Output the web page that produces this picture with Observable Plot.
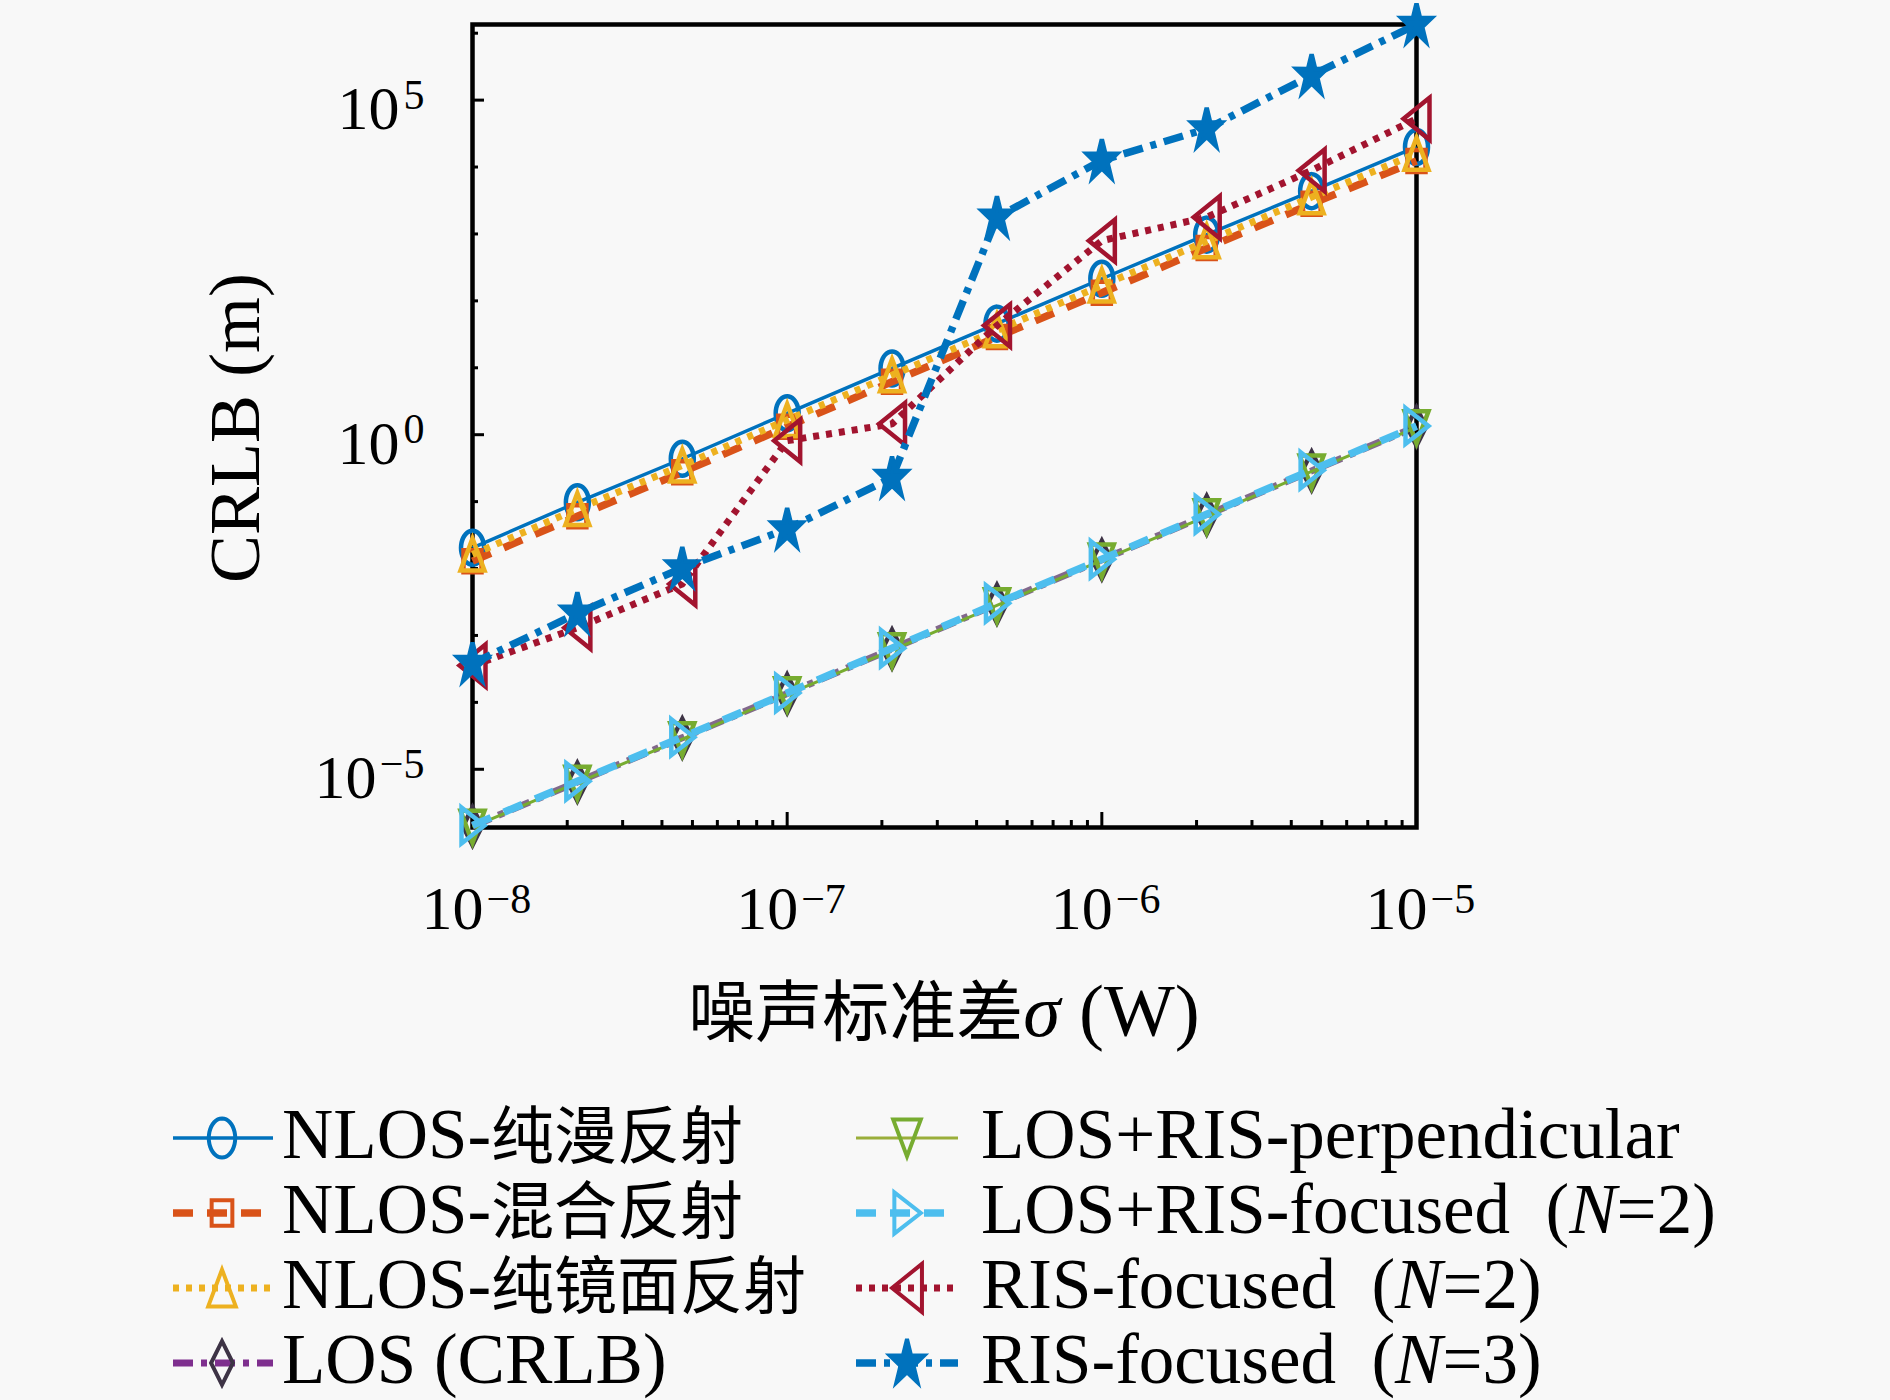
<!DOCTYPE html>
<html><head><meta charset="utf-8">
<script src="https://cdn.jsdelivr.net/npm/d3@7"></script>
<script src="https://cdn.jsdelivr.net/npm/@observablehq/plot@0.6"></script>
<style>
html,body{margin:0;padding:0;background:#f8f8f8;}
#wrap{width:1890px;height:1400px;position:relative;overflow:hidden;background:#f8f8f8;}
#wrap svg{display:block;}
</style></head>
<body><div id="wrap"></div>
<script>
// ---- data ----
const sigma = [1e-8, 2.154e-8, 4.642e-8, 1e-7, 2.154e-7, 4.642e-7, 1e-6, 2.154e-6, 4.642e-6, 1e-5];
const nlosDiffuse  = [0.0204, 0.0977, 0.437, 2.09, 9.77, 45.7, 214, 977, 4365, 19950];
const nlosMixed    = [0.0129, 0.0603, 0.275, 1.32, 6.17, 28.8, 132, 617, 2818, 12300];
const nlosSpecular = [0.0162, 0.0776, 0.347, 1.66, 7.76, 36.3, 170, 776, 3548, 15850];
const losCrlb      = [1.41e-6, 6.46e-6, 2.95e-5, 1.35e-4, 6.31e-4, 2.95e-3, 1.35e-2, 6.31e-2, 0.288, 1.32];
const losRisPerp   = [1.38e-6, 6.31e-6, 2.82e-5, 1.32e-4, 6.03e-4, 2.82e-3, 1.32e-2, 6.03e-2, 0.282, 1.29];
const losRisFocN2  = [1.45e-6, 6.61e-6, 3.02e-5, 1.38e-4, 6.46e-4, 3.02e-3, 1.38e-2, 6.46e-2, 0.295, 1.35];
const risFocN2     = [3.55e-4, 1.3e-3, 5.89e-3, 0.813, 1.45, 42.7, 794, 1778, 8913, 52500];
const risFocN3     = [3.80e-4, 2.14e-3, 1.02e-2, 3.89e-2, 0.229, 1778, 12590, 37150, 234400, 1349000];

const seriesNames = ["NLOS-纯漫反射", "NLOS-混合反射", "NLOS-纯镜面反射", "LOS (CRLB)",
  "LOS+RIS-perpendicular", "LOS+RIS-focused  (N=2)", "RIS-focused  (N=2)", "RIS-focused  (N=3)"];
const seriesValues = [nlosDiffuse, nlosMixed, nlosSpecular, losCrlb, losRisPerp, losRisFocN2, risFocN2, risFocN3];

const xMajorTicks = [1e-8, 1e-7, 1e-6, 1e-5];
const yMajorTicks = [1e-5, 1, 1e5];
const xDomain = [1e-8, 1e-5];
const yDomain = [1.349e-6, 1.349e6];
const xLabelCJK = "噪声标准差", xLabelSym = "σ", xLabelUnit = " (W)";
const yLabel = "CRLB (m)";

// ---- symbols ----
function poly(pts, s) { return {draw(c) { pts.forEach(([x, y], i) => i ? c.lineTo(x * s, y * s) : c.moveTo(x * s, y * s)); c.closePath(); }}; }
const SYM = {
  ellipse: s => ({draw(c) { const rx = 11.5 * s, ry = 17 * s; for (let i = 0; i <= 40; i++) { const a = i / 40 * 2 * Math.PI; const px = rx * Math.sin(a), py = -ry * Math.cos(a); i ? c.lineTo(px, py) : c.moveTo(px, py); } c.closePath(); }}),
  square: s => poly([[-9, -11], [9, -11], [9, 11], [-9, 11]], s),
  triUp: s => poly([[0, -16], [12, 16], [-12, 16]], s),
  diamond: s => poly([[0, -19], [9.5, 0], [0, 19], [-9.5, 0]], s),
  triDown: s => poly([[-12, -16], [12, -16], [0, 16]], s),
  triRight: s => poly([[-11, -18], [12, 0], [-11, 18]], s),
  triLeft: s => poly([[13, -21], [-13, 0], [13, 21]], s),
  star: s => { const pts = []; for (let k = 0; k < 10; k++) { const a = -Math.PI / 2 + k * Math.PI / 5; const R = k % 2 ? 8 : 21; pts.push([0.75 * R * Math.cos(a), R * Math.sin(a)]); } return poly(pts, s); }
};

const styles = [
  {line: "#0072BD", legLine: "#0072BD", w: 3.5, dash: null, sym: "ellipse", mk: "#0072BD", fill: "none"},
  {line: "#D95319", legLine: "#D95319", w: 7.5, dash: "20,14", sym: "square", mk: "#D95319", fill: "none"},
  {line: "#EDB120", legLine: "#EDB120", w: 7, dash: "6,7", sym: "triUp", mk: "#EDB120", fill: "none"},
  {line: "#82688c", legLine: "#7E2F8E", w: 7, dash: "20,8,6,8", sym: "diamond", mk: "#3d3345", fill: "none"},
  {line: "#77AC30", legLine: "#9aae3a", w: 3, dash: null, sym: "triDown", mk: "#77AC30", fill: "none"},
  {line: "#4DBEEE", legLine: "#4DBEEE", w: 7.5, dash: "20,14", sym: "triRight", mk: "#4DBEEE", fill: "none"},
  {line: "#A2142F", legLine: "#A2142F", w: 7, dash: "6,7", sym: "triLeft", mk: "#A2142F", fill: "none"},
  {line: "#0072BD", legLine: "#0072BD", w: 7.5, dash: "20,8,6,8", sym: "star", mk: "#0072BD", fill: "#0072BD"}
];

const table = seriesValues.map(vals => sigma.map((x, i) => ({x, y: vals[i]})));

const xMinor = xMajorTicks.slice(0, -1).flatMap(m => [2, 3, 4, 5, 6, 7, 8, 9].map(k => k * m));
const yMinor = d3.range(-5, 7).map(e => Math.pow(10, e)).filter(v => !yMajorTicks.includes(v));

const expStr = v => { const e = Math.round(Math.log10(v)); return e < 0 ? "\u2212" + (-e) : String(e); };
const serif = "Liberation Serif";

const tickText = [];
tickText.push(Plot.text(xMajorTicks, {x: d => d, frameAnchor: "bottom", text: () => "10", textAnchor: "end", dx: 11, dy: 101, fontSize: 62, fontFamily: serif, fill: "black"}));
tickText.push(Plot.text(xMajorTicks, {x: d => d, frameAnchor: "bottom", text: d => expStr(d), textAnchor: "start", dx: 14, dy: 85, fontSize: 42, fontFamily: serif, fill: "black"}));
yMajorTicks.forEach(v => {
  const es = expStr(v);
  const ew = es.length === 1 ? 21 : 44;
  tickText.push(Plot.text([v], {y: d => d, frameAnchor: "left", text: () => es, textAnchor: "end", dx: -48, dy: -5, fontSize: 42, fontFamily: serif, fill: "black"}));
  tickText.push(Plot.text([v], {y: d => d, frameAnchor: "left", text: () => "10", textAnchor: "end", dx: -48 - ew - 4, dy: 9, fontSize: 62, fontFamily: serif, fill: "black"}));
});

const dataMarks = table.flatMap((rows, k) => {
  const s = styles[k];
  return [
    Plot.line(rows, {x: "x", y: "y", stroke: s.line, strokeWidth: s.w, strokeDasharray: s.dash, strokeLinecap: "butt", strokeLinejoin: "round"}),
    Plot.dot(rows, {x: "x", y: "y", symbol: SYM[s.sym](1), r: 10, stroke: s.mk, fill: s.fill, strokeWidth: 4.5})
  ];
});

const chart = Plot.plot({
  width: 1890, height: 1060,
  marginLeft: 472, marginRight: 474, marginTop: 24, marginBottom: 233,
  x: {type: "log", domain: xDomain},
  y: {type: "log", domain: yDomain},
  style: {background: "transparent", overflow: "visible"},
  marks: [
    Plot.axisX(xMinor, {tickSize: -7, tickFormat: () => "", strokeWidth: 3, label: null}),
    Plot.axisX(xMajorTicks, {tickSize: -15, tickFormat: () => "", strokeWidth: 3, label: null}),
    Plot.axisY(yMinor, {tickSize: -6, tickFormat: () => "", strokeWidth: 3, label: null}),
    Plot.axisY(yMajorTicks, {tickSize: -12, tickFormat: () => "", strokeWidth: 3, label: null}),
    Plot.frame({stroke: "black", strokeWidth: 4.5}),
    ...tickText,
    ...dataMarks
  ]
});
document.getElementById("wrap").appendChild(chart);

// axis labels
const svg = d3.select(chart);
svg.append("text").attr("transform", "translate(259,428) rotate(-90)").attr("text-anchor", "middle")
  .attr("font-family", serif).attr("font-size", 72).attr("fill", "black").text(yLabel);
const xl = svg.append("text").attr("x", 944).attr("y", 1036).attr("text-anchor", "middle").attr("fill", "black").attr("xml:space", "preserve");
xl.append("tspan").attr("font-family", "Noto Sans CJK SC").attr("font-size", 67).text(xLabelCJK);
xl.append("tspan").attr("font-family", serif).attr("font-style", "italic").attr("font-size", 75).text(xLabelSym);
xl.append("tspan").attr("font-family", serif).attr("font-size", 75).text(xLabelUnit);

// ---- legend (below the chart) ----
const top0 = 1060;
const leg = d3.select("#wrap").append("svg").attr("width", 1890).attr("height", 340);
const cols = [{x0: 173, x1: 273, mx: 222, tx: 282}, {x0: 856, x1: 958, mx: 907, tx: 981}];
const baselines = [1158, 1233, 1308, 1383];
function addLabel(g, str, x, y) {
  const t = g.append("text").attr("x", x).attr("y", y).attr("fill", "black").attr("xml:space", "preserve");
  const runs = [];
  for (let i = 0; i < str.length; i++) {
    const ch = str[i];
    const type = /[\u4e00-\u9fff]/.test(ch) ? "cjk" : (ch === "N" && str[i - 1] === "(" ? "it" : "lat");
    if (runs.length && runs[runs.length - 1].type === type) runs[runs.length - 1].s += ch; else runs.push({type, s: ch});
  }
  runs.forEach(r => {
    const sp = t.append("tspan").text(r.s);
    if (r.type === "cjk") sp.attr("font-family", "Noto Sans CJK SC").attr("font-size", 63);
    else sp.attr("font-family", serif).attr("font-size", 71).attr("font-style", r.type === "it" ? "italic" : "normal");
  });
}
seriesNames.forEach((name, k) => {
  const c = cols[Math.floor(k / 4)], row = k % 4, s = styles[k];
  const by = baselines[row] - top0, ly = by - 20;
  const g = leg.append("g");
  g.append("line").attr("x1", c.x0).attr("x2", c.x1).attr("y1", ly).attr("y2", ly)
    .attr("stroke", s.legLine).attr("stroke-width", s.w).attr("stroke-dasharray", s.dash).attr("stroke-linecap", "butt");
  const p = d3.path(); SYM[s.sym](1.15).draw(p);
  g.append("path").attr("d", p.toString()).attr("transform", `translate(${c.mx},${ly})`)
    .attr("stroke", s.mk).attr("stroke-width", 4).attr("fill", s.fill).attr("stroke-linejoin", "miter");
  addLabel(g, name, c.tx, by);
});
</script>
</body></html>
